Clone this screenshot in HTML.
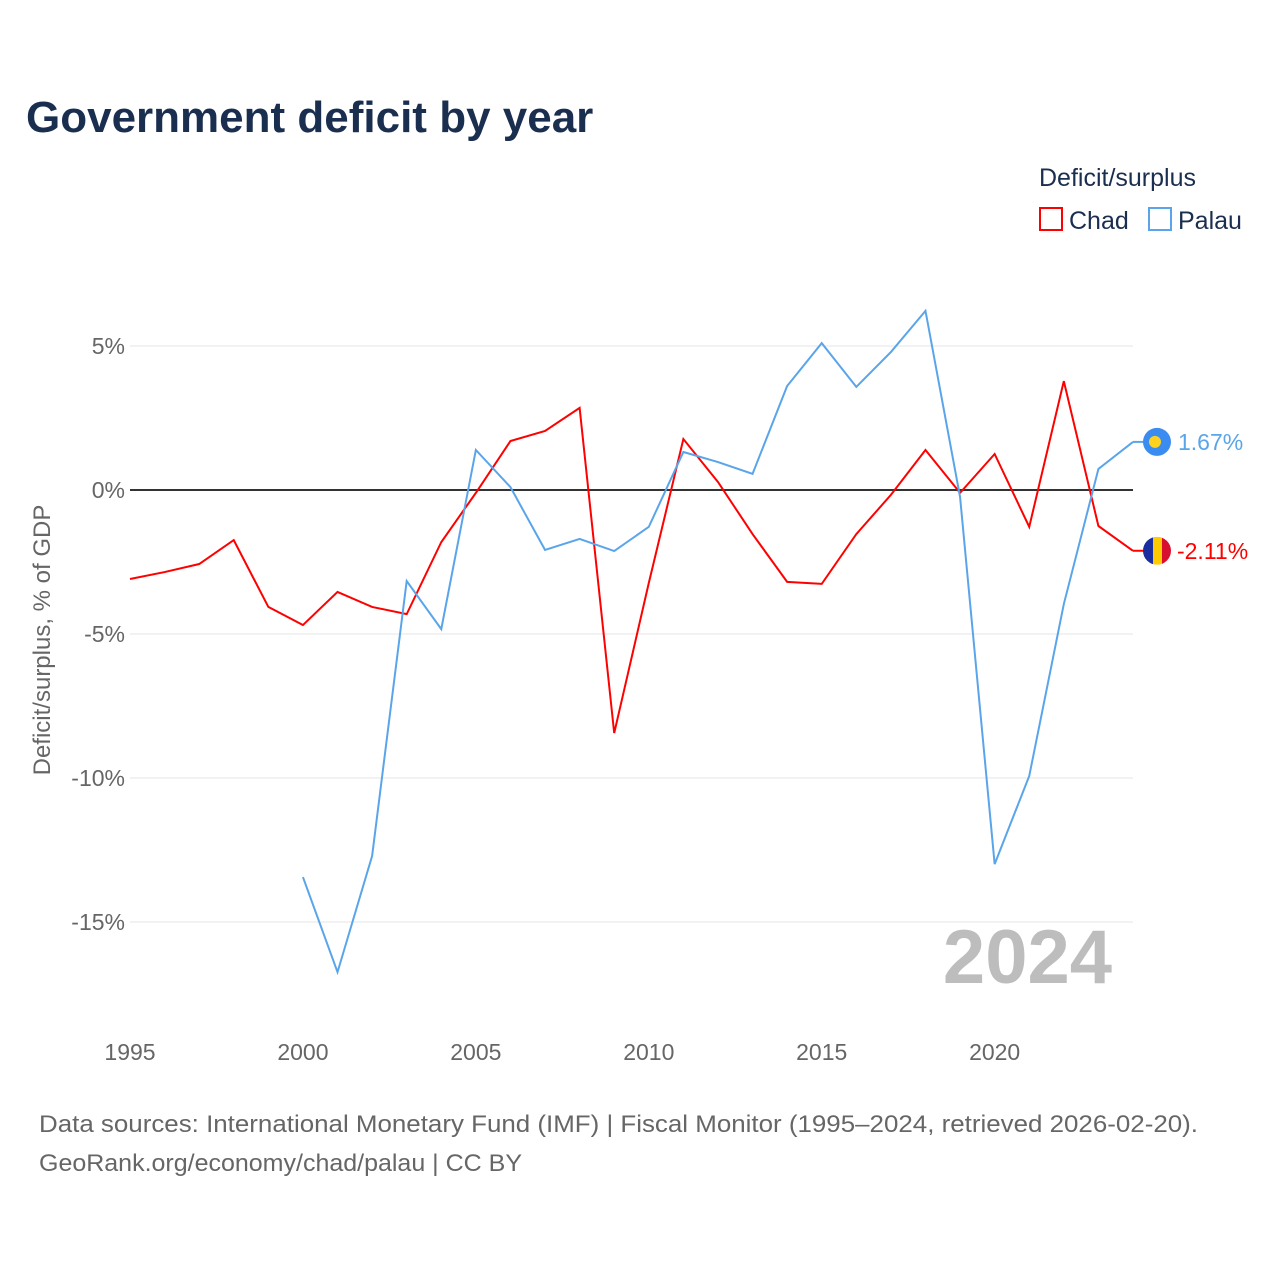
<!DOCTYPE html>
<html><head><meta charset="utf-8"><style>
body{margin:0;background:#fff;font-family:"Liberation Sans",sans-serif}
</style></head><body>
<svg id="chart" width="1280" height="1280" xmlns="http://www.w3.org/2000/svg" style="display:block">
<text x="26" y="132" font-size="44" font-weight="bold" fill="#1a2e4f">Government deficit by year</text>
<text x="1039" y="186" font-size="25" fill="#1a2e4f">Deficit/surplus</text>
<g><rect x="1040" y="208" width="22" height="22" fill="none" stroke="#ff0000" stroke-width="2"/><text x="1069" y="229" font-size="25" fill="#1a2e4f">Chad</text></g>
<g><rect x="1149" y="208" width="22" height="22" fill="none" stroke="#5aa5ea" stroke-width="2"/><text x="1178" y="229" font-size="25" fill="#1a2e4f">Palau</text></g>
<text transform="translate(50,640) rotate(-90)" text-anchor="middle" font-size="24" fill="#666">Deficit/surplus, % of GDP</text>
<text x="1112" y="983" text-anchor="end" font-size="76" font-weight="bold" fill="#bdbdbd">2024</text>
<g id="grid"></g><g id="lines"></g>
<text x="39" y="1132" font-size="24" fill="#666" textLength="1159" lengthAdjust="spacingAndGlyphs">Data sources: International Monetary Fund (IMF) | Fiscal Monitor (1995–2024, retrieved 2026-02-20).</text>
<text x="39" y="1171" font-size="24" fill="#666" textLength="483" lengthAdjust="spacingAndGlyphs">GeoRank.org/economy/chad/palau | CC BY</text>
</svg>
<script>
const years=[];for(let y=1995;y<=2024;y++)years.push(y);
const chad=[-3.09,-2.85,-2.57,-1.74,-4.06,-4.69,-3.54,-4.06,-4.31,-1.81,-0.1,1.70,2.05,2.85,-8.44,-3.23,1.77,0.28,-1.53,-3.19,-3.26,-1.53,-0.17,1.39,-0.1,1.25,-1.28,3.78,-1.25,-2.11];
const palau=[null,null,null,null,null,-13.44,-16.74,-12.71,-3.16,-4.83,1.39,0.1,-2.08,-1.70,-2.12,-1.28,1.32,0.97,0.56,3.61,5.10,3.58,4.79,6.22,-0.24,-12.99,-9.93,-3.96,0.73,1.67];
const yTicks=[5,0,-5,-10,-15];
const xTicks=[1995,2000,2005,2010,2015,2020];
const NS="http://www.w3.org/2000/svg";
const X=y=>130+(y-1995)*34.586, Y=v=>490-v*28.8;
function mk(t,a,p){const e=document.createElementNS(NS,t);for(const k in a)e.setAttribute(k,a[k]);p.appendChild(e);return e;}
const g=document.getElementById('grid'),L=document.getElementById('lines');
yTicks.forEach(v=>{
 const l=mk('line',{x1:130,x2:1133,y1:Y(v),y2:Y(v),stroke:v===0?'#333':'#e6e6e6','stroke-width':v===0?2:1},g);
 
 
 const t=mk('text',{x:125,y:Y(v)+8,'text-anchor':'end','font-size':23,fill:'#666'},g);t.textContent=v+'%';
 
 
});
xTicks.forEach(yr=>{
 const t=mk('text',{x:X(yr),y:1060,'text-anchor':'middle','font-size':23,fill:'#666'},g);t.textContent=yr;
 
 
});
function line(data,color,name){
 let d='';data.forEach((v,i)=>{if(v===null)return;d+=(d?'L':'M')+X(years[i])+','+Y(v);});
 const p=mk('path',{d:d,fill:'none',stroke:color,'stroke-width':2},L);
 
 
}
line(chad,'#ff0000','chad-line');line(palau,'#5aa5ea','palau-line');
const lc=chad[chad.length-1],lp=palau[palau.length-1],xe=X(2024);
let gp=mk('g',{},L);


mk('line',{x1:xe,x2:xe+12,y1:Y(lp),y2:Y(lp),stroke:'#5aa5ea','stroke-width':2},gp);
mk('circle',{cx:xe+24,cy:Y(lp),r:14,fill:'#3b8cf0'},gp);
mk('circle',{cx:xe+22,cy:Y(lp),r:6,fill:'#ffd21f'},gp);
let tp=mk('text',{x:xe+45,y:Y(lp)+8,'font-size':23,fill:'#5aa5ea'},gp);tp.textContent=lp.toFixed(2)+'%';
let gc=mk('g',{},L);


mk('line',{x1:xe,x2:xe+12,y1:Y(lc),y2:Y(lc),stroke:'#ff0000','stroke-width':2},gc);
const cx=xe+24,cy=Y(lc);
mk('clipPath',{id:'cc'},gc);mk('circle',{cx:cx,cy:cy,r:14},gc.lastChild);
const fg=mk('g',{'clip-path':'url(#cc)'},gc);
mk('rect',{x:cx-14,y:cy-14,width:10,height:28,fill:'#1a2ea0'},fg);
mk('rect',{x:cx-4,y:cy-14,width:9,height:28,fill:'#fecb00'},fg);
mk('rect',{x:cx+5,y:cy-14,width:10,height:28,fill:'#d80f2f'},fg);
let tc=mk('text',{x:xe+44,y:Y(lc)+8,'font-size':23,fill:'#ff0000'},gc);tc.textContent=lc.toFixed(2)+'%';
</script>
</body></html>
